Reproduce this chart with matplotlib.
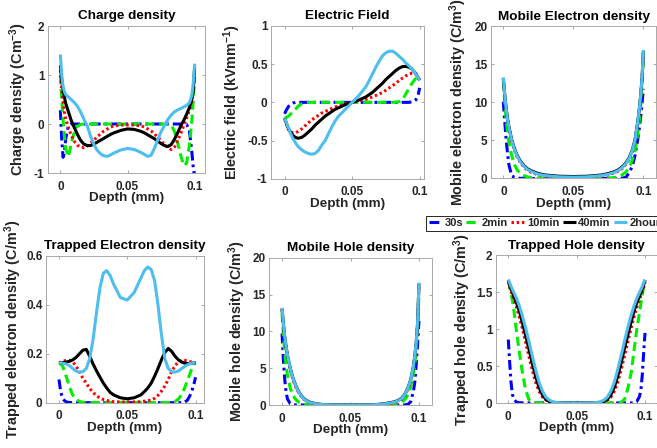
import matplotlib
matplotlib.use('Agg')
import matplotlib.pyplot as plt
from matplotlib.ticker import FixedLocator, FuncFormatter

plt.rcParams['font.family'] = ['Liberation Sans', 'DejaVu Sans']
plt.rcParams['font.weight'] = 'bold'
plt.rcParams['mathtext.fontset'] = 'custom'
plt.rcParams['mathtext.rm'] = 'Liberation Sans:bold'
plt.rcParams['mathtext.it'] = 'Liberation Sans:bold'
plt.rcParams['mathtext.bf'] = 'Liberation Sans:bold'
plt.rcParams['mathtext.default'] = 'rm'
plt.rcParams['axes.unicode_minus'] = False

# ---------------- data ----------------
series_labels = ['30s', '2min', '10min', '40min', '2hour']

depth_full = [0, 0.001, 0.002, 0.003, 0.004, 0.006, 0.008, 0.010, 0.0125, 0.015, 0.0175,
              0.02, 0.0225, 0.025, 0.0275, 0.03, 0.0325, 0.035, 0.0375, 0.04, 0.045, 0.05,
              0.055, 0.06, 0.0625, 0.065, 0.0675, 0.07, 0.0725, 0.075, 0.0775, 0.08, 0.0825,
              0.085, 0.0875, 0.09, 0.092, 0.094, 0.096, 0.097, 0.098, 0.099, 0.1]
depth_edge = [0, 0.001, 0.002, 0.003, 0.004, 0.006, 0.008, 0.01, 0.0125, 0.015, 0.0175, 0.02,
              0.025, 0.03, 0.04, 0.05, 0.06, 0.07, 0.075, 0.08, 0.0825, 0.085, 0.0875, 0.09,
              0.092, 0.094, 0.096, 0.097, 0.098, 0.099, 0.1]

# Charge density
charge_30s = [0.28, -0.3, -0.68, -0.6, -0.3, -0.03, 0] + [0] * 30 + [-0.01, -0.12, -0.35, -0.6, -0.9, -1.1]
charge_2min = [1.0, 0.5, 0.1, -0.25, -0.5, -0.67, -0.42, -0.2, -0.05, -0.01] + [0] * 22 + \
              [-0.02, -0.15, -0.4, -0.68, -0.85, -0.8, -0.45, -0.2, 0.1, 0.5, 0.95]
charge_10min = [1.1, 0.7, 0.45, 0.25, 0.1, -0.08, -0.22, -0.34, -0.43, -0.47, -0.48, -0.45, -0.39,
                -0.33, -0.26, -0.2, -0.14, -0.1, -0.06, -0.04, -0.02, -0.02, -0.02, -0.04, -0.06,
                -0.1, -0.14, -0.2, -0.27, -0.34, -0.42, -0.48, -0.52, -0.47, -0.33, -0.17, -0.02,
                0.12, 0.28, 0.38, 0.5, 0.7, 0.95]
charge_40min = [1.2, 0.9, 0.7, 0.55, 0.42, 0.25, 0.08, -0.05, -0.2, -0.33, -0.41, -0.44, -0.44,
                -0.41, -0.37, -0.33, -0.29, -0.25, -0.21, -0.18, -0.13, -0.1, -0.11, -0.15, -0.18,
                -0.22, -0.26, -0.3, -0.35, -0.4, -0.44, -0.46, -0.42, -0.31, -0.17, -0.02, 0.08,
                0.2, 0.33, 0.42, 0.52, 0.7, 1.15]
charge_2hour = [1.42, 1.0, 0.76, 0.66, 0.6, 0.55, 0.5, 0.45, 0.37, 0.25, 0.1, -0.04, -0.25, -0.42,
                -0.54, -0.61, -0.65, -0.66, -0.63, -0.59, -0.53, -0.5, -0.52, -0.58, -0.62, -0.66,
                -0.64, -0.5, -0.32, -0.16, -0.03, 0.09, 0.18, 0.25, 0.29, 0.32, 0.35, 0.38, 0.43,
                0.5, 0.6, 0.85, 1.23]

# Electric field
field_30s = [-0.15, -0.11, -0.08, -0.05, -0.03, -0.01] + [0] * 31 + [0.005, 0.015, 0.03, 0.06, 0.11, 0.19]
field_2min = [-0.21, -0.2, -0.19, -0.18, -0.16, -0.13, -0.09, -0.05, -0.02, -0.005] + [0] * 22 + \
             [0.003, 0.01, 0.04, 0.12, 0.18, 0.24, 0.29, 0.31, 0.32, 0.31, 0.29]
field_10min = [-0.21, -0.27, -0.32, -0.36, -0.38, -0.4, -0.4, -0.38, -0.35, -0.31, -0.27, -0.23,
               -0.2, -0.17, -0.14, -0.12, -0.1, -0.08, -0.06, -0.05, -0.02, 0, 0.02, 0.04, 0.055,
               0.07, 0.09, 0.11, 0.13, 0.16, 0.19, 0.22, 0.25, 0.29, 0.32, 0.35, 0.37, 0.38, 0.38,
               0.37, 0.35, 0.32, 0.29]
field_40min = [-0.21, -0.26, -0.31, -0.35, -0.38, -0.43, -0.46, -0.47, -0.46, -0.43, -0.39, -0.35,
               -0.3, -0.26, -0.22, -0.18, -0.15, -0.12, -0.09, -0.07, -0.03, 0, 0.03, 0.07, 0.1,
               0.13, 0.17, 0.21, 0.25, 0.3, 0.34, 0.38, 0.42, 0.45, 0.47, 0.47, 0.46, 0.44, 0.4,
               0.38, 0.35, 0.32, 0.29]
field_2hour = [-0.21, -0.25, -0.3, -0.34, -0.39, -0.47, -0.53, -0.58, -0.62, -0.65, -0.67, -0.68,
               -0.67, -0.63, -0.56, -0.5, -0.41, -0.32, -0.24, -0.18, -0.09, 0.0, 0.09, 0.2, 0.28,
               0.37, 0.46, 0.54, 0.61, 0.65, 0.67, 0.67, 0.64, 0.6, 0.56, 0.51, 0.48, 0.44, 0.4,
               0.37, 0.35, 0.32, 0.29]

# Mobile electron density
mob_e_30s = [10.1, 7.5, 5.2, 3.3, 1.8, 0.35, 0.15, 0.05, 0.02, 0.01] + [0] * 9 + \
            [0.01, 0.02, 0.05, 0.15, 0.8, 1.6, 3.0, 5.2, 6.5, 8.0, 9.8, 11.8]
mob_e_2min = [12.8, 10.0, 7.8, 6.0, 4.7, 3.0, 1.8, 1.1, 0.6, 0.35, 0.2, 0.12, 0.06, 0.03, 0.02,
              0.02, 0.02, 0.03, 0.06, 0.15, 0.25, 0.5, 0.85, 1.5, 2.4, 3.7, 5.9, 7.5, 9.5, 12.2, 15.5]
mob_e_10min = [13.1, 10.9, 9.1, 7.7, 6.6, 4.9, 3.7, 2.8, 2.0, 1.45, 1.05, 0.8, 0.48, 0.32, 0.18,
               0.15, 0.18, 0.32, 0.48, 0.78, 1.0, 1.35, 1.85, 2.6, 3.5, 4.9, 7.3, 8.8, 10.6, 13.0, 16.7]
mob_e_40min = [13.2, 11.0, 9.3, 7.9, 6.8, 5.1, 3.9, 3.0, 2.2, 1.65, 1.25, 1.0, 0.65, 0.46, 0.3,
               0.26, 0.3, 0.46, 0.65, 0.95, 1.2, 1.55, 2.05, 2.8, 3.7, 5.1, 7.5, 9.0, 10.8, 13.1, 16.8]
mob_e_2hour = [13.3, 11.0, 9.2, 7.8, 6.7, 5.0, 3.8, 2.9, 2.1, 1.55, 1.15, 0.9, 0.55, 0.38, 0.22,
               0.18, 0.22, 0.38, 0.55, 0.85, 1.1, 1.45, 1.95, 2.7, 3.6, 5.0, 7.5, 9.0, 10.8, 13.2, 16.9]

# Trapped electron density
trap_e_30s = [0.095, 0.055, 0.03, 0.016, 0.008, 0.002, 0.001] + [0] * 29 + \
             [0.002, 0.01, 0.03, 0.045, 0.06, 0.08, 0.104]
trap_e_2min = [0.163, 0.16, 0.155, 0.145, 0.13, 0.095, 0.06, 0.032, 0.013, 0.005, 0.002] + [0.001] * 22 + \
              [0.005, 0.015, 0.035, 0.06, 0.09, 0.12, 0.135, 0.148, 0.157, 0.163]
trap_e_10min = [0.163, 0.165, 0.167, 0.169, 0.171, 0.174, 0.173, 0.167, 0.15, 0.127, 0.1, 0.08,
                0.058, 0.042, 0.028, 0.019, 0.013, 0.009, 0.006, 0.004, 0.003, 0.003, 0.003, 0.004,
                0.006, 0.008, 0.011, 0.018, 0.03, 0.047, 0.068, 0.095, 0.127, 0.152, 0.167, 0.174,
                0.173, 0.171, 0.168, 0.166, 0.165, 0.164, 0.163]
trap_e_40min = [0.163, 0.163, 0.163, 0.164, 0.165, 0.167, 0.17, 0.175, 0.185, 0.2, 0.215, 0.218,
                0.19, 0.158, 0.13, 0.105, 0.08, 0.06, 0.042, 0.032, 0.02, 0.016, 0.02, 0.032, 0.045,
                0.06, 0.08, 0.108, 0.14, 0.175, 0.205, 0.222, 0.21, 0.19, 0.175, 0.166, 0.162, 0.16,
                0.16, 0.161, 0.162, 0.163, 0.163]
trap_e_2hour = [0.163, 0.163, 0.162, 0.161, 0.16, 0.157, 0.15, 0.14, 0.13, 0.125, 0.127, 0.14,
                0.18, 0.26, 0.37, 0.47, 0.53, 0.54, 0.52, 0.485, 0.43, 0.42, 0.45, 0.51, 0.54, 0.555,
                0.545, 0.5, 0.4, 0.28, 0.18, 0.14, 0.127, 0.125, 0.13, 0.14, 0.148, 0.155, 0.16,
                0.161, 0.162, 0.163, 0.163]

# Mobile hole density
mob_h_30s = [9.7, 6.1, 3.4, 1.7, 0.8, 0.18, 0.05, 0.01] + [0] * 15 + \
            [0.02, 0.1, 0.45, 1.9, 3.2, 5.5, 8.3, 11.4]
mob_h_2min = [12.5, 9.5, 7.0, 5.3, 4.0, 2.3, 1.3, 0.75, 0.35, 0.15, 0.07, 0.04, 0.01, 0.005, 0, 0,
              0, 0.01, 0.02, 0.05, 0.1, 0.2, 0.4, 0.8, 1.4, 2.5, 4.3, 5.6, 7.5, 10.5, 15.0]
mob_h_10min = [13.0, 10.8, 9.0, 7.7, 6.5, 4.8, 3.45, 2.45, 1.55, 0.92, 0.55, 0.3, 0.1, 0.04, 0.008,
               0.004, 0.008, 0.05, 0.12, 0.25, 0.35, 0.52, 0.82, 1.4, 2.2, 3.3, 5.2, 6.6, 8.4, 11.0, 16.4]
mob_h_40min = [13.1, 11.0, 9.2, 7.9, 6.7, 5.0, 3.65, 2.65, 1.7, 1.05, 0.65, 0.4, 0.16, 0.06, 0.015,
               0.008, 0.015, 0.08, 0.18, 0.35, 0.45, 0.65, 0.95, 1.55, 2.35, 3.45, 5.3, 6.7, 8.5, 11.1, 16.5]
mob_h_2hour = [13.2, 11.0, 9.2, 7.9, 6.7, 5.0, 3.6, 2.6, 1.65, 1.0, 0.6, 0.35, 0.13, 0.05, 0.01,
               0.005, 0.01, 0.06, 0.15, 0.3, 0.4, 0.6, 0.9, 1.5, 2.3, 3.4, 5.3, 6.7, 8.5, 11.2, 16.6]

# Trapped hole density
trap_h_30s = [0.86, 0.55, 0.28, 0.12, 0.05, 0.012, 0.004, 0.002] + [0.001] * 28 + \
             [0.005, 0.02, 0.09, 0.18, 0.38, 0.68, 0.95]
trap_h_2min = [1.65, 1.57, 1.49, 1.39, 1.27, 0.97, 0.7, 0.45, 0.19, 0.05, 0.015, 0.005, 0.002] + [0.001] * 18 + \
              [0.003, 0.01, 0.05, 0.2, 0.42, 0.72, 1.0, 1.23, 1.35, 1.47, 1.57, 1.65]
trap_h_10min = [1.65, 1.57, 1.51, 1.46, 1.41, 1.3, 1.17, 1.03, 0.84, 0.64, 0.45, 0.28, 0.16, 0.08,
                0.04, 0.018, 0.008, 0.004, 0.002, 0.001, 0.001, 0.001, 0.001, 0.001, 0.002, 0.004,
                0.008, 0.018, 0.04, 0.08, 0.16, 0.28, 0.45, 0.64, 0.84, 1.03, 1.17, 1.3, 1.41, 1.46,
                1.51, 1.57, 1.65]
trap_h_40min = [1.67, 1.6, 1.55, 1.5, 1.45, 1.36, 1.25, 1.11, 0.93, 0.74, 0.54, 0.36, 0.21, 0.11,
                0.05, 0.022, 0.01, 0.004, 0.002, 0.001, 0.001, 0.001, 0.001, 0.001, 0.002, 0.004,
                0.01, 0.022, 0.05, 0.11, 0.21, 0.36, 0.54, 0.74, 0.93, 1.11, 1.25, 1.36, 1.45, 1.5,
                1.55, 1.6, 1.67]
trap_h_2hour = [1.67, 1.63, 1.58, 1.54, 1.5, 1.42, 1.32, 1.2, 1.03, 0.84, 0.64, 0.45, 0.28, 0.16,
                0.08, 0.04, 0.018, 0.008, 0.004, 0.002, 0.001, 0.001, 0.001, 0.002, 0.004, 0.008,
                0.018, 0.04, 0.08, 0.16, 0.28, 0.45, 0.64, 0.84, 1.03, 1.2, 1.32, 1.42, 1.5, 1.54,
                1.58, 1.63, 1.67]

x_ticks = [0, 0.05, 0.1]

# ---------------- styles ----------------
styles = [
    dict(color='#0000FF', dashes=(3.2, 1.3, 0.9, 1.3)),
    dict(color='#00EE00', dashes=(3.0, 1.6)),
    dict(color='#FF0000', dashes=(0.8, 0.9)),
    dict(color='#000000'),
    dict(color='#4DBEEE'),
]
LW = 2.2

W, H = 657, 448
fig = plt.figure(figsize=(W / 100, H / 100), dpi=100)


def add_axes(l, t, r, b):
    return fig.add_axes([l / W, 1 - b / H, (r - l) / W, (b - t) / H])


panels = [
    dict(rect=(48, 26, 205, 173), xlim=(-0.0092, 0.1077), ylim=(-1, 2), yticks=[-1, 0, 1, 2],
         title='Charge density', ylabel='Charge density (Cm$^{-3}$)', ylx=-0.121, xly=-0.132,
         x=depth_full, ys=[charge_30s, charge_2min, charge_10min, charge_40min, charge_2hour]),
    dict(rect=(271, 26, 424, 178.7), xlim=(-0.0101, 0.1032), ylim=(-1, 1), yticks=[-1, -0.5, 0, 0.5, 1],
         title='Electric Field', ylabel='Electric field (kVmm$^{-1}$)', ylx=-0.183, xly=-0.126,
         x=depth_full, ys=[field_30s, field_2min, field_10min, field_40min, field_2hour]),
    dict(rect=(491, 26.5, 656, 178.5), xlim=(-0.0088, 0.109), ylim=(0, 20), yticks=[0, 5, 10, 15, 20],
         title='Mobile Electron density', ylabel='Mobile electron density (C/m$^3$)', ylx=-0.133, xly=-0.128,
         x=depth_edge, ys=[mob_e_30s, mob_e_2min, mob_e_10min, mob_e_40min, mob_e_2hour]),
    dict(rect=(46, 256, 204, 402.7), xlim=(-0.0095, 0.1062), ylim=(0, 0.6), yticks=[0, 0.2, 0.4, 0.6],
         title='Trapped Electron density', ylabel='Trapped electron density (C/m$^3$)', ylx=-0.139, xly=-0.133,
         x=depth_full, ys=[trap_e_30s, trap_e_2min, trap_e_10min, trap_e_40min, trap_e_2hour]),
    dict(rect=(269.3, 257.7, 431.7, 405), xlim=(-0.0093, 0.1093), ylim=(0, 20), yticks=[0, 5, 10, 15, 20],
         title='Mobile Hole density', ylabel='Mobile hole density (C/m$^3$)', ylx=-0.131, xly=-0.13,
         x=depth_edge, ys=[mob_h_30s, mob_h_2min, mob_h_10min, mob_h_40min, mob_h_2hour]),
    dict(rect=(496, 255.5, 656.5, 403), xlim=(-0.009, 0.1084), ylim=(0, 2), yticks=[0, 0.5, 1, 1.5, 2],
         title='Trapped Hole density', ylabel='Trapped hole density (C/m$^3$)', ylx=-0.143, xly=-0.13,
         x=depth_full, ys=[trap_h_30s, trap_h_2min, trap_h_10min, trap_h_40min, trap_h_2hour]),
]

fmt = FuncFormatter(lambda v, p: '%g' % v)
handles = None
for p in panels:
    ax = add_axes(*p['rect'])
    lines = []
    for yv, st, lab in zip(p['ys'], styles, series_labels):
        ln, = ax.plot(p['x'], yv, lw=LW, label=lab, solid_capstyle='butt',
                      dash_capstyle='butt', **st)
        lines.append(ln)
    handles = lines
    ax.set_xlim(*p['xlim'])
    ax.set_ylim(*p['ylim'])
    ax.xaxis.set_major_locator(FixedLocator(x_ticks))
    ax.yaxis.set_major_locator(FixedLocator(p['yticks']))
    ax.xaxis.set_major_formatter(fmt)
    ax.yaxis.set_major_formatter(fmt)
    ax.tick_params(direction='in', length=2.5, width=0.6, color='#9a9a9a',
                   labelcolor='#262626', labelsize=8.5, top=True, right=True)
    ax.tick_params(axis='x', pad=5.5)
    ax.tick_params(axis='y', pad=2.5)
    for lbl in ax.get_xticklabels() + ax.get_yticklabels():
        lbl.set_fontweight('bold')
    for s in ax.spines.values():
        s.set_color('#a8a8a8')
        s.set_linewidth(0.7)
    ax.set_title(p['title'], fontsize=9.7, fontweight='bold', pad=5, color='black')
    ax.set_xlabel('Depth (mm)', fontsize=9.7, fontweight='bold', color='#262626')
    ax.set_ylabel(p['ylabel'], fontsize=10.4, fontweight='bold', color='#262626')
    ax.xaxis.set_label_coords(0.5, p['xly'])
    ax.yaxis.set_label_coords(p['ylx'], 0.5)

leg = fig.legend(handles, series_labels, loc='upper left', bbox_to_anchor=(426 / W, 1 - 215.5 / H),
                 ncol=5, prop={'weight': 'bold', 'size': 8}, handlelength=1.2, handletextpad=0.2,
                 columnspacing=0.3, borderpad=0.25, borderaxespad=0, frameon=True, fancybox=False,
                 edgecolor='#262626', framealpha=1)
leg.get_frame().set_linewidth(0.7)
for t in leg.get_texts():
    t.set_color('#262626')

fig.savefig('out.png', dpi=100)
